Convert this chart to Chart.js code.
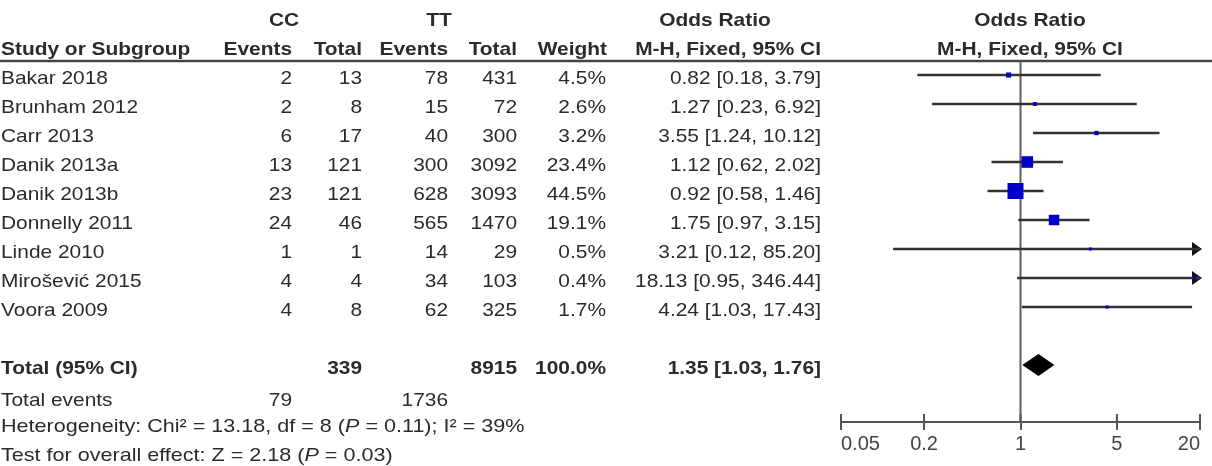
<!DOCTYPE html>
<html>
<head>
<meta charset="utf-8">
<script src="https://cdn.jsdelivr.net/npm/chart.js@4.4.1/dist/chart.umd.min.js"></script>
<style>
  html, body { margin: 0; padding: 0; background: #fff; }
  canvas { display: block; }
</style>
</head>
<body>
<canvas id="forest" width="1212" height="466"></canvas>
<script>
// study data
const studies = ['Bakar 2018', 'Brunham 2012', 'Carr 2013', 'Danik 2013a', 'Danik 2013b',
                 'Donnelly 2011', 'Linde 2010', 'Mirošević 2015', 'Voora 2009'];
const ccEvents = [2, 2, 6, 13, 23, 24, 1, 4, 4];
const ccTotal = [13, 8, 17, 121, 121, 46, 1, 4, 8];
const ttEvents = [78, 15, 40, 300, 628, 565, 14, 34, 62];
const ttTotal = [431, 72, 300, 3092, 3093, 1470, 29, 103, 325];
const weights = [4.5, 2.6, 3.2, 23.4, 44.5, 19.1, 0.5, 0.4, 1.7];
const orEst = [0.82, 1.27, 3.55, 1.12, 0.92, 1.75, 3.21, 18.13, 4.24];
const orLow = [0.18, 0.23, 1.24, 0.62, 0.58, 0.97, 0.12, 0.95, 1.03];
const orHigh = [3.79, 6.92, 10.12, 2.02, 1.46, 3.15, 85.20, 346.44, 17.43];

const totalCC = 339;
const totalTT = 8915;
const totalEventsCC = 79;
const totalEventsTT = 1736;
const totalOR = [1.03, 1.35, 1.76]; // low, estimate, high

const xTicks = [0.05, 0.2, 1, 5, 20];
const X_MIN = 0.05, X_MAX = 20;

// rows on the (hidden) y scale
const Y_MIN = -75 / 29;
const Y_MAX = Y_MIN + 422 / 29;
const TOTAL_ROW = 10;

const TEXT = '#2b2b2b';
const FONT = '"Liberation Sans", Arial, sans-serif';
const SIZE = 19;
const STRETCH = 1.1;
const TEXT_DY = 4;

const cols = { name: 1, ccEv: 292, ccTot: 362, ttEv: 448, ttTot: 517, weight: 606, ci: 821 };

function fmtCI(est, lo, hi) {
    return `${est.toFixed(2)} [${lo.toFixed(2)}, ${hi.toFixed(2)}]`;
}

function setFont(ctx, bold, italic) {
    ctx.font = `${italic ? 'italic ' : ''}${bold ? 'bold ' : ''}${SIZE}px ${FONT}`;
}

function drawText(ctx, str, x, y, align, bold) {
    ctx.save();
    setFont(ctx, bold, false);
    ctx.fillStyle = TEXT;
    ctx.textAlign = align;
    ctx.textBaseline = 'middle';
    ctx.translate(x, y);
    ctx.scale(STRETCH, 1);
    ctx.fillText(str, 0, 0);
    ctx.restore();
}

// left aligned text made of runs, some italic
function drawRuns(ctx, runs, x, y) {
    const k = 1.135;
    let cx = x;
    runs.forEach(run => {
        ctx.save();
        setFont(ctx, false, run.italic);
        ctx.fillStyle = TEXT;
        ctx.textAlign = 'left';
        ctx.textBaseline = 'middle';
        ctx.translate(cx, y);
        ctx.scale(k, 1);
        ctx.fillText(run.t, 0, 0);
        cx += ctx.measureText(run.t).width * k;
        ctx.restore();
    });
}

const forestPlugin = {
    id: 'forestTable',
    beforeDatasetsDraw(chart) {
        const ctx = chart.ctx;
        const xs = chart.scales.x, ys = chart.scales.y;
        const area = chart.chartArea;
        const headY = ys.getPixelForValue(-0.48);

        ctx.save();
        // header rule
        ctx.strokeStyle = '#444';
        ctx.lineWidth = 2.5;
        ctx.beginPath();
        ctx.moveTo(0, headY);
        ctx.lineTo(chart.width, headY);
        ctx.stroke();

        // line of no effect
        const x1 = xs.getPixelForValue(1);
        ctx.strokeStyle = '#5e5e5e';
        ctx.lineWidth = 2;
        ctx.beginPath();
        ctx.moveTo(x1, headY);
        ctx.lineTo(x1, area.bottom);
        ctx.stroke();

        // arrows for intervals running past the axis
        ctx.fillStyle = '#111';
        orHigh.forEach((hi, i) => {
            const y = ys.getPixelForValue(i);
            if (hi > X_MAX) {
                const px = xs.getPixelForValue(X_MAX);
                ctx.beginPath();
                ctx.moveTo(px + 2, y);
                ctx.lineTo(px - 8, y - 7);
                ctx.lineTo(px - 8, y + 7);
                ctx.closePath();
                ctx.fill();
            }
            if (orLow[i] < X_MIN) {
                const px = xs.getPixelForValue(X_MIN);
                ctx.beginPath();
                ctx.moveTo(px - 2, y);
                ctx.lineTo(px + 8, y - 7);
                ctx.lineTo(px + 8, y + 7);
                ctx.closePath();
                ctx.fill();
            }
        });
        ctx.restore();
    },
    afterDatasetsDraw(chart) {
        const ctx = chart.ctx;
        const xs = chart.scales.x, ys = chart.scales.y;
        const area = chart.chartArea;

        // pooled diamond
        const yt = ys.getPixelForValue(TOTAL_ROW);
        ctx.save();
        ctx.fillStyle = '#000';
        ctx.beginPath();
        ctx.moveTo(xs.getPixelForValue(totalOR[0]), yt);
        ctx.lineTo(xs.getPixelForValue(totalOR[1]), yt - 11);
        ctx.lineTo(xs.getPixelForValue(totalOR[2]), yt);
        ctx.lineTo(xs.getPixelForValue(totalOR[1]), yt + 11);
        ctx.closePath();
        ctx.fill();

        // upward half of the axis ticks
        ctx.strokeStyle = '#555';
        ctx.lineWidth = 2;
        xTicks.forEach(v => {
            const px = xs.getPixelForValue(v);
            ctx.beginPath();
            ctx.moveTo(px, area.bottom - 8);
            ctx.lineTo(px, area.bottom);
            ctx.stroke();
        });
        ctx.restore();

        const rowY = v => ys.getPixelForValue(v) + TEXT_DY;

        // headers
        let y = rowY(-2);
        drawText(ctx, 'CC', 284, y, 'center', true);
        drawText(ctx, 'TT', 439, y, 'center', true);
        drawText(ctx, 'Odds Ratio', 715, y, 'center', true);
        drawText(ctx, 'Odds Ratio', 1030, y, 'center', true);
        y = rowY(-1);
        drawText(ctx, 'Study or Subgroup', cols.name, y, 'left', true);
        drawText(ctx, 'Events', cols.ccEv, y, 'right', true);
        drawText(ctx, 'Total', cols.ccTot, y, 'right', true);
        drawText(ctx, 'Events', cols.ttEv, y, 'right', true);
        drawText(ctx, 'Total', cols.ttTot, y, 'right', true);
        drawText(ctx, 'Weight', cols.weight + 1, y, 'right', true);
        drawText(ctx, 'M-H, Fixed, 95% CI', cols.ci, y, 'right', true);
        drawText(ctx, 'M-H, Fixed, 95% CI', 1030, y, 'center', true);

        // study rows
        studies.forEach((name, i) => {
            const ry = rowY(i);
            drawText(ctx, name, cols.name, ry, 'left', false);
            drawText(ctx, String(ccEvents[i]), cols.ccEv, ry, 'right', false);
            drawText(ctx, String(ccTotal[i]), cols.ccTot, ry, 'right', false);
            drawText(ctx, String(ttEvents[i]), cols.ttEv, ry, 'right', false);
            drawText(ctx, String(ttTotal[i]), cols.ttTot, ry, 'right', false);
            drawText(ctx, weights[i].toFixed(1) + '%', cols.weight, ry, 'right', false);
            drawText(ctx, fmtCI(orEst[i], orLow[i], orHigh[i]), cols.ci, ry, 'right', false);
        });

        // totals
        y = rowY(TOTAL_ROW);
        drawText(ctx, 'Total (95% CI)', cols.name, y, 'left', true);
        drawText(ctx, String(totalCC), cols.ccTot, y, 'right', true);
        drawText(ctx, String(totalTT), cols.ttTot, y, 'right', true);
        drawText(ctx, '100.0%', cols.weight, y, 'right', true);
        drawText(ctx, fmtCI(totalOR[1], totalOR[0], totalOR[2]), cols.ci, y, 'right', true);

        y = rowY(11.1);
        drawText(ctx, 'Total events', cols.name, y, 'left', false);
        drawText(ctx, String(totalEventsCC), cols.ccEv, y, 'right', false);
        drawText(ctx, String(totalEventsTT), cols.ttEv, y, 'right', false);

        drawRuns(ctx, [
            { t: 'Heterogeneity: Chi² = 13.18, df = 8 (' },
            { t: 'P', italic: true },
            { t: ' = 0.11); I² = 39%' }
        ], cols.name, rowY(12));
        drawRuns(ctx, [
            { t: 'Test for overall effect: Z = 2.18 (' },
            { t: 'P', italic: true },
            { t: ' = 0.03)' }
        ], cols.name, rowY(13));
    }
};

const ctx = document.getElementById('forest').getContext('2d');
const forestChart = new Chart(ctx, {
    type: 'scatter',
    data: {
        datasets: [
            {
                type: 'scatter',
                data: orEst.map((v, i) => ({ x: v, y: i })),
                pointStyle: 'rect',
                pointRadius: c => Math.max(3, 2.4 * Math.sqrt(weights[c.dataIndex])) / Math.SQRT2,
                backgroundColor: '#0000c8',
                borderWidth: 0,
                order: 0
            },
            {
                type: 'bar',
                indexAxis: 'y',
                data: orLow.map((lo, i) => ({ x: [Math.max(lo, X_MIN), Math.min(orHigh[i], X_MAX)], y: i })),
                backgroundColor: '#333',
                barThickness: 2,
                order: 1
            }
        ]
    },
    options: {
        responsive: false,
        animation: false,
        events: [],
        layout: { autoPadding: false, padding: { left: 841, right: 12, top: 0, bottom: 0 } },
        scales: {
            x: {
                type: 'logarithmic',
                position: 'bottom',
                min: X_MIN,
                max: X_MAX,
                afterBuildTicks: s => { s.ticks = xTicks.map(v => ({ value: v })); },
                afterFit: s => { s.height = 44; },
                ticks: {
                    color: '#444',
                    font: { size: 20, family: FONT },
                    padding: 2,
                    align: 'inner',
                    autoSkip: false,
                    maxRotation: 0,
                    callback: v => String(v)
                },
                grid: { drawOnChartArea: false, drawTicks: true, tickLength: 8, color: '#555', lineWidth: 2 },
                border: { display: true, color: '#555', width: 2 }
            },
            y: {
                type: 'linear',
                reverse: true,
                min: Y_MIN,
                max: Y_MAX,
                offset: false,
                display: false
            }
        },
        plugins: {
            legend: { display: false },
            tooltip: { enabled: false }
        }
    },
    plugins: [forestPlugin]
});
</script>
</body>
</html>
